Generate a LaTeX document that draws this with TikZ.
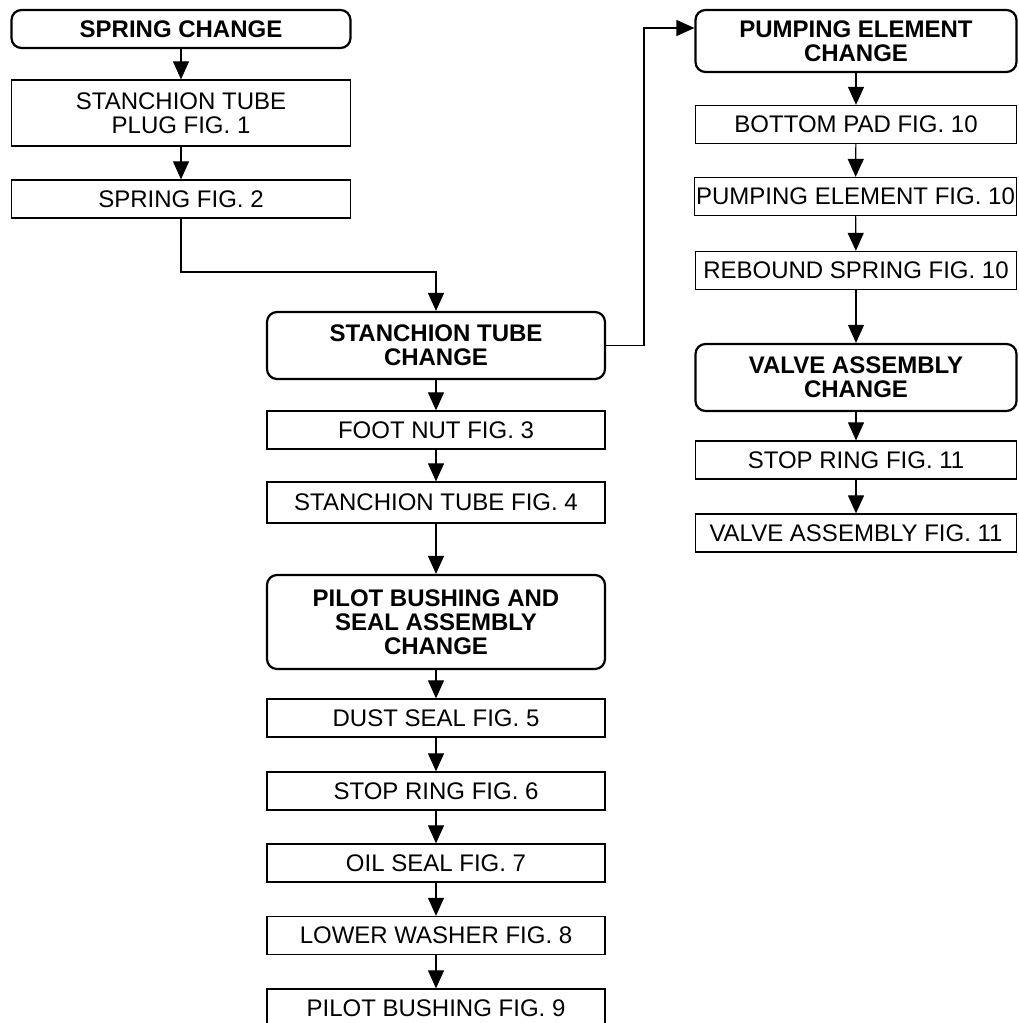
\documentclass[tikz,border=0pt]{standalone}
\usepackage{fontspec}
\setmainfont{Liberation Sans}
\usetikzlibrary{arrows.meta, positioning}

\begin{document}
\begin{tikzpicture}[x=1pt, y=-1pt,
    stepbox/.style={draw, line width=1.3pt, minimum height=38pt, inner sep=0pt, align=center, font=\fontsize{24}{24}\selectfont},
    changebox/.style={draw, line width=2.2pt, rounded corners=10pt, inner sep=0pt, align=center, font=\bfseries\fontsize{24}{24}\selectfont},
    flow/.style={line width=1.2pt, -{Triangle[length=18pt, width=16pt]}}]
    \useasboundingbox (0,0) rectangle (1018,1023);

    % Spring change column
    \node[changebox, minimum width=339pt, minimum height=38pt] (springchange) at (181,29) {SPRING CHANGE};
    \node[stepbox, minimum width=339pt, minimum height=66pt] (plug) at (181,113) {STANCHION TUBE\\PLUG FIG. 1};
    \node[stepbox, minimum width=339pt] (spring) at (181,199) {SPRING FIG. 2};

    % Stanchion tube and pilot bushing column
    \node[changebox, minimum width=338pt, minimum height=67pt] (tubechange) at (436,345.5) {STANCHION TUBE\\CHANGE};
    \node[stepbox, minimum width=338pt] (footnut) at (436,430) {FOOT NUT FIG. 3};
    \node[stepbox, minimum width=338pt, minimum height=41pt] (tube) at (436,502.5) {STANCHION TUBE FIG. 4};
    \node[changebox, minimum width=338pt, minimum height=94pt] (bushingchange) at (436,622) {PILOT BUSHING AND\\SEAL ASSEMBLY\\CHANGE};
    \node[stepbox, minimum width=338pt] (dustseal) at (436,718) {DUST SEAL FIG. 5};
    \node[stepbox, minimum width=338pt] (stopring) at (436,791) {STOP RING FIG. 6};
    \node[stepbox, minimum width=338pt] (oilseal) at (436,863) {OIL SEAL FIG. 7};
    \node[stepbox, minimum width=338pt] (washer) at (436,935.5) {LOWER WASHER FIG. 8};
    \node[stepbox, minimum width=338pt] (bushing) at (436,1008) {PILOT BUSHING FIG. 9};

    % Pumping element and valve column
    \node[changebox, minimum width=321pt, minimum height=62pt] (pumpchange) at (856,41) {PUMPING ELEMENT\\CHANGE};
    \node[stepbox, minimum width=321pt] (bottompad) at (856,124.5) {BOTTOM PAD FIG. 10};
    \node[stepbox, minimum width=322pt] (pumping) at (855.5,196.5) {PUMPING ELEMENT FIG. 10};
    \node[stepbox, minimum width=321pt] (rebound) at (856,270.5) {REBOUND SPRING FIG. 10};
    \node[changebox, minimum width=321pt, minimum height=67pt] (valvechange) at (856,377.5) {VALVE ASSEMBLY\\CHANGE};
    \node[stepbox, minimum width=321pt] (stopring11) at (856,460) {STOP RING FIG. 11};
    \node[stepbox, minimum width=321pt] (valve) at (856,533) {VALVE ASSEMBLY FIG. 11};

    % straight arrows
    \draw[flow] (springchange) -- (plug);
    \draw[flow] (plug) -- (spring);
    \draw[flow] (tubechange) -- (footnut);
    \draw[flow] (footnut) -- (tube);
    \draw[flow] (tube) -- (bushingchange);
    \draw[flow] (bushingchange) -- (dustseal);
    \draw[flow] (dustseal) -- (stopring);
    \draw[flow] (stopring) -- (oilseal);
    \draw[flow] (oilseal) -- (washer);
    \draw[flow] (washer) -- (bushing);
    \draw[flow] (pumpchange) -- (bottompad);
    \draw[flow] (bottompad) -- (pumping);
    \draw[flow] (pumping) -- (rebound);
    \draw[flow] (rebound) -- (valvechange);
    \draw[flow] (valvechange) -- (stopring11);
    \draw[flow] (stopring11) -- (valve);

    % elbow arrows
    \coordinate (drop) at (spring.south |- 0,272);
    \draw[flow] (spring.south) -- (drop) -| (tubechange.north);
    \coordinate (jog) at (644,28);
    \draw[flow] (tubechange.east) -| (jog) -- (jog -| pumpchange.west);
\end{tikzpicture}
\end{document}
